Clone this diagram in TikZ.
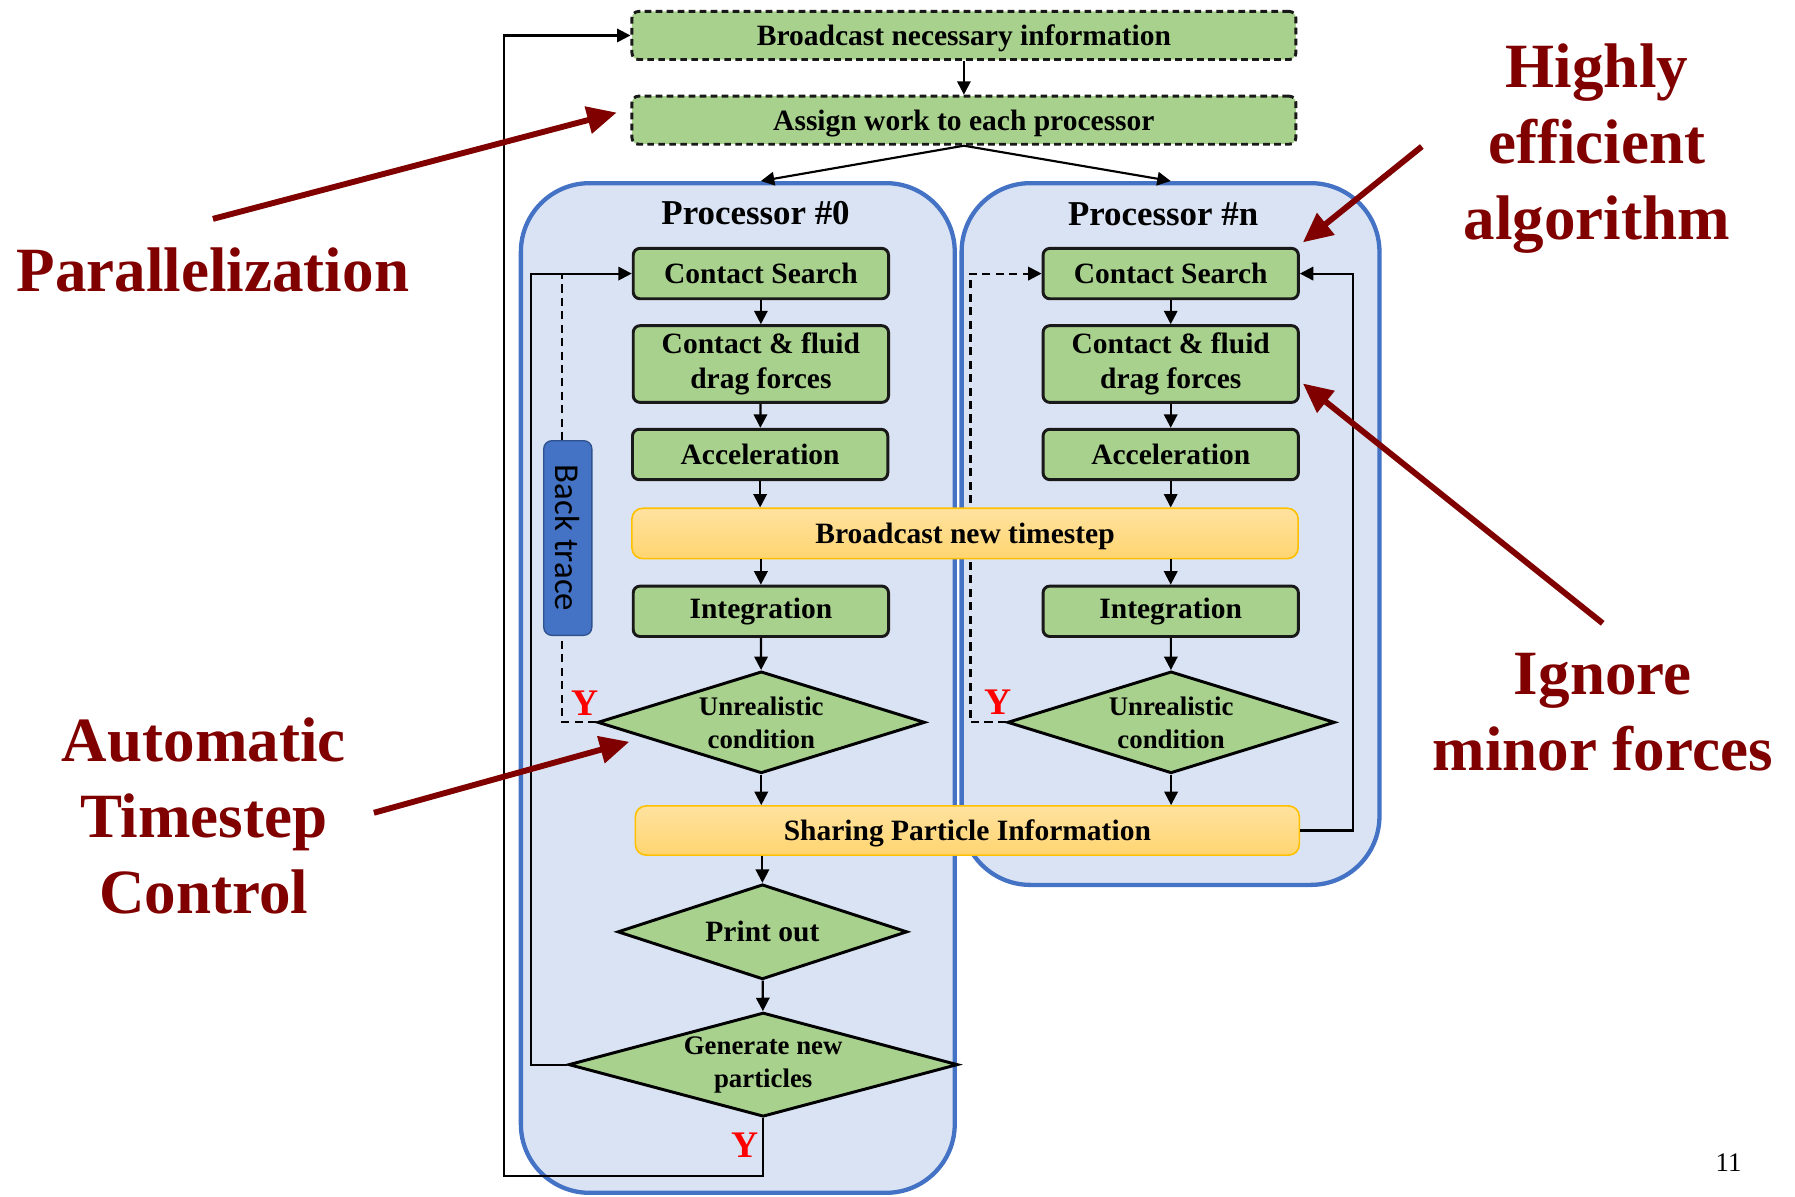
\documentclass[tikz,border=0pt]{standalone}
\usepackage{fontspec}
\usepackage{graphicx}
\setmainfont{Liberation Serif}
\newfontfamily\tracefont{Carlito}
\usetikzlibrary{arrows.meta,positioning,shapes.geometric}
\definecolor{boxgreen}{HTML}{A9D18E}
\definecolor{procfill}{HTML}{DAE3F3}
\definecolor{procedge}{HTML}{4472C4}
\definecolor{traceedge}{HTML}{2F528F}
\definecolor{synctop}{HTML}{FFE2A0}
\definecolor{syncbottom}{HTML}{FFD570}
\definecolor{syncedge}{HTML}{FFC000}
\definecolor{notered}{HTML}{800000}
\definecolor{yesred}{HTML}{FF0000}

\begin{document}
\begin{tikzpicture}[>={Triangle[length=5pt,width=5pt]}, line width=0.8pt,
  font=\bfseries\fontsize{11}{12.8}\selectfont,
  stepbox/.style={draw=black!90, fill=boxgreen, rounded corners=2.5pt, line width=1.1pt,
    minimum width=3.345cm, minimum height=0.66cm, align=center, inner sep=1pt},
  topbox/.style={stepbox, dash pattern=on 2.5pt off 1.6pt, minimum width=8.7cm, minimum height=0.63cm,
    text depth=0pt},
  syncbox/.style={draw=syncedge, line width=0.6pt, rounded corners=4pt, top color=synctop,
    bottom color=syncbottom, minimum width=8.73cm, minimum height=0.66cm, text depth=0pt},
  decision/.style={diamond, draw=black, fill=boxgreen, line width=1.1pt, inner sep=0pt, align=center,
    font=\bfseries\fontsize{10}{12.3}\selectfont},
  procframe/.style={draw=procedge, fill=procfill, line width=1.6pt, rounded corners=0.9cm},
  tracebox/.style={draw=traceedge, fill=procedge, line width=0.5pt, rounded corners=3pt,
    minimum width=0.63cm, minimum height=2.55cm, inner sep=0pt, font=\tracefont\fontsize{13}{13}\selectfont},
  backline/.style={dash pattern=on 3pt off 2pt},
  note/.style={text=notered, align=center, font=\bfseries\fontsize{23.5}{28.3}\selectfont},
  notearrow/.style={notered, line width=2.2pt, -{Triangle[length=11pt,width=10pt]}},
  yes/.style={text=yesred, font=\bfseries\fontsize{14}{14}\selectfont}]
  \useasboundingbox (0,0) rectangle (23.52,15.675);

  \node[procframe, minimum width=5.685cm, minimum height=13.23cm] (proc0) at (9.6675,6.66) {};
  \node[procframe, minimum width=5.475cm, minimum height=9.195cm] (procn) at (15.3375,8.6775) {};
  \node[font=\bfseries\fontsize{13}{13}\selectfont] (title0) at (9.9,12.885) {Processor \#0};
  \node[font=\bfseries\fontsize{13}{13}\selectfont] (titlen) at (15.24,12.87) {Processor \#n};

  \node[topbox] (bcast) at (12.63,15.21) {Broadcast necessary information};
  \node[topbox] (assign) at (12.63,14.10) {Assign work to each processor};

  \node[stepbox] (cs0) at (9.97,12.09) {Contact Search};
  \node[stepbox, minimum height=1.005cm] (cf0) at (9.97,10.905) {Contact \& fluid\\drag forces};
  \node[stepbox] (acc0) at (9.96,9.72) {Acceleration};
  \node[stepbox] (int0) at (9.97,7.665) {Integration};
  \node[decision, aspect=3.2, minimum width=4.29cm, minimum height=1.335cm] (unr0) at (9.975,6.21) {Unrealistic\\condition};
  \node[decision, aspect=3, minimum width=3.795cm, minimum height=1.245cm, font=\bfseries\fontsize{11}{12}\selectfont] (prt) at (9.99,3.465) {Print out};
  \node[decision, aspect=3.7, minimum width=5.1cm, minimum height=1.365cm] (gen) at (10.0,1.725) {Generate new\\particles};

  \node[stepbox] (csn) at (15.34,12.09) {Contact Search};
  \node[stepbox, minimum height=1.005cm] (cfn) at (15.34,10.905) {Contact \& fluid\\drag forces};
  \node[stepbox] (accn) at (15.34,9.72) {Acceleration};
  \node[stepbox] (intn) at (15.34,7.665) {Integration};
  \node[decision, aspect=3.2, minimum width=4.29cm, minimum height=1.335cm] (unrn) at (15.345,6.21) {Unrealistic\\condition};

  \draw[backline, ->] (unrn.west) -- ++(-0.465,0) |- (csn.west);

  \node[syncbox] (bnt) at (12.645,8.685) {Broadcast new timestep};
  \node[syncbox, minimum width=8.7cm, minimum height=0.645cm] (spi) at (12.675,4.7925) {Sharing Particle Information};

  \node[tracebox] (trace) at (7.44,8.625) {\rotatebox{-90}{Back trace}};

  \node[yes] (y0) at (7.665,6.465) {Y};
  \node[yes] (yn) at (13.08,6.48) {Y};
  \node[yes] (ygen) at (9.765,0.675) {Y};
  \coordinate (loopcorner) at (6.6,0.27);

  \draw[->] (bcast) -- (assign);
  \draw[->] (assign.south) -- (cs0 |- proc0.north);
  \draw[->] (assign.south) -- (csn |- procn.north);

  \draw[->] (cs0) -- (cf0);
  \draw[->] (cf0) -- (acc0);
  \draw[->] (acc0) -- (acc0 |- bnt.north);
  \draw[->] (bnt.south -| int0) -- (int0);
  \draw[->] (int0) -- (unr0);
  \draw[->] (unr0) -- (unr0 |- spi.north);
  \draw[->] (spi.south -| prt) -- (prt);
  \draw[->] (prt) -- (gen);

  \draw[->] (csn) -- (cfn);
  \draw[->] (cfn) -- (accn);
  \draw[->] (accn) -- (accn |- bnt.north);
  \draw[->] (bnt.south -| intn) -- (intn);
  \draw[->] (intn) -- (unrn);
  \draw[->] (unrn) -- (unrn |- spi.north);

  \draw[->] (gen.west) -- ++(-0.475,0) |- (cs0.west);
  \draw[backline] (unr0.west) -| ([xshift=-0.075cm]trace.south);
  \draw[backline] ([xshift=-0.075cm]trace.north) -- ([xshift=-0.075cm]trace.north |- cs0.west);
  \draw[->] (gen.south) |- (loopcorner) |- (bcast.west);
  \draw[->] (spi.east) -- ++(0.69,0) |- (csn.east);

  \node[note] (par) at (2.79,12.135) {Parallelization};
  \node[note] (hea) at (20.925,13.725) {Highly\\efficient\\algorithm};
  \node[note] (ats) at (2.67,4.98) {Automatic\\Timestep\\Control};
  \node[note] (imf) at (21.0,6.345) {Ignore\\minor forces};

  \draw[notearrow] ([yshift=0.25cm]par.north) -- ([shift={(-0.18,0.1)}]assign.west);
  \draw[notearrow] ([shift={(-0.42,0.03)}]hea.west) -- ([shift={(0.04,0.06)}]csn.north east);
  \draw[notearrow] ([yshift=0.26cm]imf.north) -- ([shift={(0.04,-0.255)}]cfn.east);
  \draw[notearrow] ([shift={(0.24,0.045)}]ats.east) -- ([shift={(0.435,-0.255)}]unr0.west);

  \node[font=\normalfont\fontsize{10}{12}\selectfont] (pagenum) at (22.65,0.435) {11};
\end{tikzpicture}
\end{document}
